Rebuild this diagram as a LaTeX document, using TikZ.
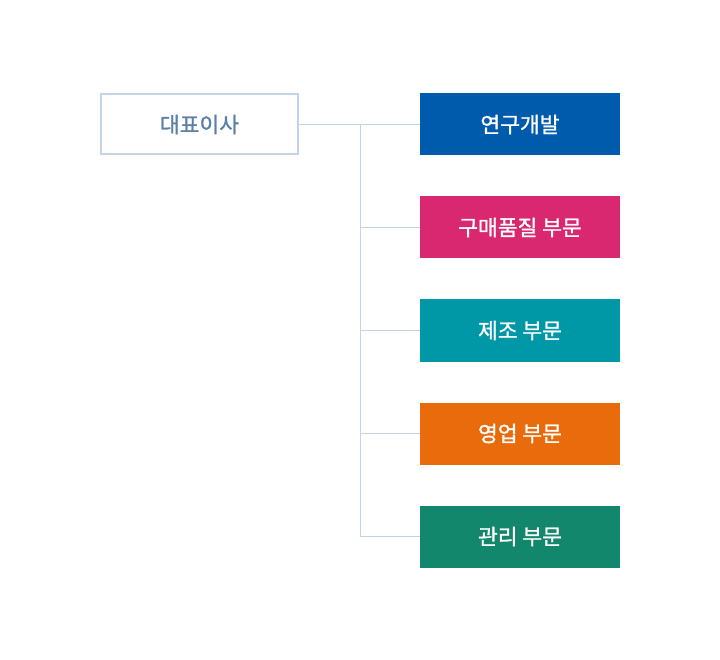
\documentclass[tikz,border=0pt]{standalone}
\usepackage{fontspec}
\newfontfamily\kr{Noto Sans CJK KR}[FakeBold=1.2]
\definecolor{linec}{HTML}{C2D4E5}
\definecolor{ceotext}{HTML}{5B80A8}
\definecolor{cblue}{HTML}{005BAC}
\definecolor{cmag}{HTML}{D9286F}
\definecolor{cteal}{HTML}{0097A7}
\definecolor{corange}{HTML}{E96B0C}
\definecolor{cgreen}{HTML}{13876C}
\tikzset{
  dept/.style={minimum width=200pt, minimum height=62pt, inner sep=0pt, text=white, font=\kr\fontsize{21.5}{26}\selectfont},
  ceo/.style={draw=linec, line width=2pt, minimum width=197pt, minimum height=60pt, inner sep=0pt, text=ceotext, font=\kr\fontsize{21.5}{26}\selectfont},
  conn/.style={draw=linec, line width=1pt}
}
\begin{document}
\begin{tikzpicture}[x=1pt,y=-1pt]
\useasboundingbox (0,0) rectangle (720,660);
\node[ceo] (ceo) at (199.5,124.5) {대표이사};
\node[dept, fill=cblue] (d1) at (520,124.5) {연구개발};
\node[dept, fill=cmag] (d2) at (520,227.5) {구매품질 부문};
\node[dept, fill=cteal] (d3) at (520,330.5) {제조 부문};
\node[dept, fill=corange] (d4) at (520,433.5) {영업 부문};
\node[dept, fill=cgreen] (d5) at (520,536.5) {관리 부문};
\coordinate (t1) at (360,124.5);
\coordinate (t2) at (360,227.5);
\coordinate (t3) at (360,330.5);
\coordinate (t4) at (360,433.5);
\coordinate (t5) at (360,536.5);
\draw[conn] (ceo.east) -- (d1.west);
\draw[conn] (t1) -- (t5);
\draw[conn] (t2) -- (d2.west);
\draw[conn] (t3) -- (d3.west);
\draw[conn] (t4) -- (d4.west);
\draw[conn] (t5) -- (d5.west);
\end{tikzpicture}
\end{document}
